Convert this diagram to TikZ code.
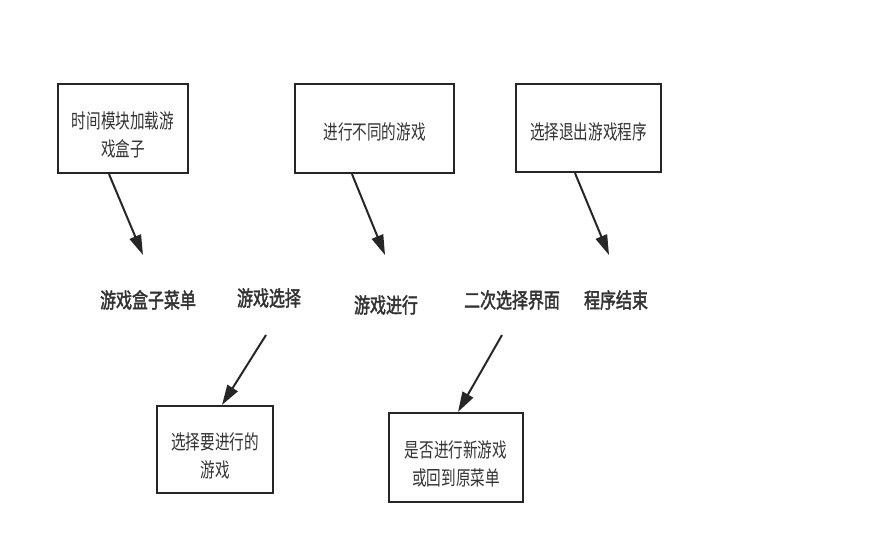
\documentclass[tikz,border=0pt]{standalone}
\usepackage{fontspec}
\newfontfamily\cjk[FakeStretch=0.73]{Noto Sans CJK SC}
\newfontfamily\cjkb[FakeStretch=0.76, AutoFakeBold=2]{Noto Sans CJK SC}
\usetikzlibrary{arrows.meta, positioning}

\begin{document}
\begin{tikzpicture}[x=1pt, y=-1pt,
    box/.style={draw=black!85, line width=2.2pt, fill=white, inner sep=0pt,
                align=center, text=black!80, font=\cjk\fontsize{20}{28}\selectfont,
                execute at begin node={\rule{0pt}{24pt}}},
    twoline/.style={execute at begin node={\rule{0pt}{58pt}}},
    stage/.style={inner sep=0pt, text=black!80, font=\cjkb\bfseries\fontsize{21}{22}\selectfont},
    link/.style={draw=black!85, line width=2pt, -{Triangle[length=20pt, width=12pt]}}]
    % canvas of the reference (886 x 558)
    \useasboundingbox (0,0) rectangle (886,558);

    % Upper boxes
    \node[box, twoline, minimum width=130pt, minimum height=89pt] (load) at (123,128.5) {时间模块加载游\\戏盒子};
    \node[box, minimum width=159pt, minimum height=89pt] (play) at (374.5,128.5) {进行不同的游戏};
    \node[box, minimum width=145pt, minimum height=88pt] (quit) at (588.5,128) {选择退出游戏程序};

    % Stages in a row
    \node[stage] (menu) at (148,300) {游戏盒子菜单};
    \node[stage] (choose) at (269,298) {游戏选择};
    \node[stage] (run) at (386,305) {游戏进行};
    \node[stage] (again) at (512,300) {二次选择界面};
    \node[stage] (finish) at (616,300) {程序结束};

    % Lower boxes
    \node[box, twoline, minimum width=116pt, minimum height=87pt] (pick) at (215,449.5) {选择要进行的\\游戏};
    \node[box, twoline, minimum width=134pt, minimum height=89pt] (back) at (456,457.5) {是否进行新游戏\\或回到原菜单};

    % Free ends of the arrows
    \coordinate (menuTip) at (143,255);
    \coordinate (runTip) at (385,255);
    \coordinate (finishTip) at (609,255);
    \coordinate (chooseFoot) at (266,335);
    \coordinate (againFoot) at (502,335);

    % Arrows
    \draw[link] ([xshift=-14pt]load.south) -- (menuTip);
    \draw[link] ([xshift=-22.5pt]play.south) -- (runTip);
    \draw[link] ([xshift=-13.5pt]quit.south) -- (finishTip);
    \draw[link] (chooseFoot) -- ([xshift=7pt]pick.north);
    \draw[link] (againFoot) -- ([xshift=2pt]back.north);
\end{tikzpicture}
\end{document}
